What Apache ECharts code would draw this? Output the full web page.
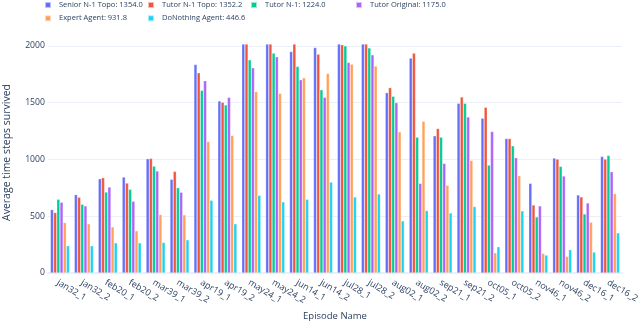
<!DOCTYPE html>
<html>
<head>
<meta charset="utf-8">
<script src="https://cdn.jsdelivr.net/npm/echarts@6/dist/echarts.min.js"></script>
<style>html,body{margin:0;padding:0;background:#fff;}#c{width:640px;height:322px;}</style>
</head>
<body>
<div id="c"></div>
<script>
const categories = ['jan32_1','jan32_2','feb20_1','feb20_2','mar39_1','mar39_2','apr19_1','apr19_2','may24_1','may24_2','jun14_1','jun14_2','jul28_1','jul28_2','aug02_1','aug02_2','sep21_1','sep21_2','oct05_1','oct05_2','nov46_1','nov46_2','dec16_1','dec16_2'];
const seriesNames = ['Senior N-1 Topo: 1354.0','Tutor N-1 Topo: 1352.2','Tutor N-1: 1224.0','Tutor Original: 1175.0','Expert Agent: 931.8','DoNothing Agent: 446.6'];
const senior = [558,690,830,845,1006,825,1836,1515,2016,2016,1950,1985,2016,2016,1588,1892,1208,1494,1363,1184,789,1012,687,1026];
const tutorTopo = [532,667,839,792,1009,895,1763,1503,2016,2016,2016,1927,2010,2016,1632,1936,1272,1550,1459,1184,599,1003,670,1003];
const tutorN1 = [649,605,713,737,941,751,1608,1480,1877,1936,1819,1614,2000,1982,1556,1196,1196,1494,950,1120,494,939,520,1035];
const tutorOrig = [623,591,757,632,898,711,1693,1547,1807,1904,1702,1547,1854,1921,1500,789,965,1374,1246,1015,591,854,617,892];
const expert = [444,433,406,371,515,512,1158,1211,1597,1582,1719,1757,1839,1822,1243,1336,772,991,178,857,173,146,447,699];
const doNothing = [240,240,266,266,269,292,640,433,684,626,649,801,670,696,459,550,529,585,231,547,158,205,184,354];
const yTicks = [0,500,1000,1500,2000];

const colors = ['#636efa','#EF553B','#00cc96','#ab63fa','#FFA15A','#19d3f3'];
const allData = [senior,tutorTopo,tutorN1,tutorOrig,expert,doNothing];
const txt = '#2a3f5f';
const grid = '#ebf0f8';

const legendCols = [[0,4],[1,5],[2],[3]];
const legendLeft = [44,147,250,355];
const legends = legendCols.map((idx,i)=>({
  orient:'vertical', left:legendLeft[i], top:0, itemWidth:6, itemHeight:6, itemGap:3.3,
  icon:'rect', padding:[0,0,0,0],
  textStyle:{color:txt, fontSize:7.5, fontFamily:'Open Sans', lineHeight:10, padding:[0,0,0,3]},
  data: idx.map(k=>seriesNames[k])
}));

const chart = echarts.init(document.getElementById('c'), null, {renderer:'canvas'});
chart.setOption({
  animation:false,
  backgroundColor:'#fff',
  color:colors,
  legend:legends,
  grid:{left:48, right:18, top:32, bottom:49, containLabel:false, outerBoundsMode:'none'},
  xAxis:{
    type:'category', data:categories,
    name:'Episode Name', nameLocation:'middle', nameGap:38, nameMoveOverlap:false,
    nameTextStyle:{color:txt, fontSize:9.5, fontFamily:'Open Sans'},
    axisLine:{show:true, lineStyle:{color:grid, width:2}},
    axisTick:{show:false},
    axisLabel:{rotate:-31, color:txt, fontSize:9, fontFamily:'Open Sans', margin:5, interval:0, align:'left', verticalAlign:'top', hideOverlap:false}
  },
  yAxis:{
    type:'value', min:0, max:2122, interval:500,
    name:'Average time steps survived', nameLocation:'middle', nameGap:35, nameMoveOverlap:false,
    nameTextStyle:{color:txt, fontSize:10.5, fontFamily:'Open Sans'},
    axisLine:{show:false}, axisTick:{show:false},
    axisLabel:{color:txt, fontSize:8.7, fontFamily:'Open Sans', margin:3, showMaxLabel:false,
      formatter:v=> yTicks.includes(v) ? String(v) : ''},
    splitLine:{lineStyle:{color:[grid,grid,grid,grid,grid,'rgba(0,0,0,0)'], width:1}}
  },
  series: allData.map((d,i)=>({
    name:seriesNames[i], type:'bar', data:d,
    barGap:'0%', barCategoryGap:'20%',
    itemStyle:{color:colors[i], borderColor:'rgba(255,255,255,0.6)', borderWidth:0.5}
  }))
});
</script>
</body>
</html>
